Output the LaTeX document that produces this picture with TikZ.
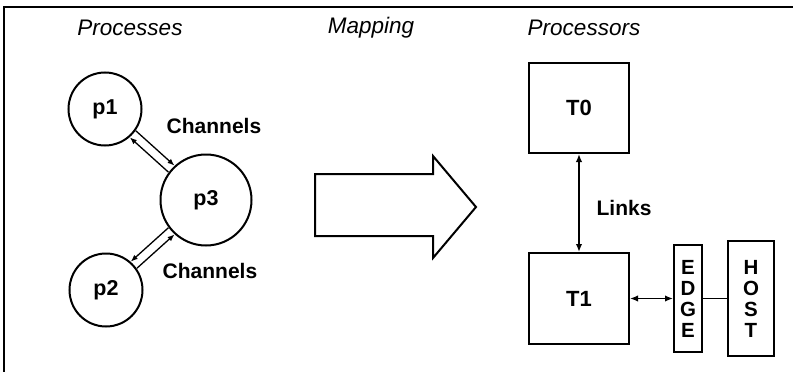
\documentclass[tikz,border=0pt]{standalone}
\usepackage{fontspec}
\setmainfont{Liberation Sans}
\usetikzlibrary{arrows.meta}
\begin{document}
\begin{tikzpicture}[x=1pt,y=-1pt,
  lbl/.style={font=\fontsize{21}{25}\selectfont\bfseries},
  hdr/.style={font=\fontsize{22.5}{26}\selectfont\itshape},
  proc/.style={circle,draw,line width=2pt,inner sep=0pt,font=\fontsize{21.5}{25}\selectfont\bfseries},
  cpu/.style={rectangle,draw,line width=2pt,inner sep=0pt,font=\fontsize{22}{25}\selectfont\bfseries},
  tall/.style={rectangle,draw,line width=2pt,inner sep=0pt,align=center,font=\fontsize{20.5}{21}\selectfont\bfseries},
  chan/.style={line width=1.3pt,-{Latex[length=7pt,width=5.5pt]}},
  link/.style={line width=1.6pt,{Latex[length=8pt,width=6.5pt]}-{Latex[length=8pt,width=6.5pt]}}
]
\useasboundingbox (0,0) rectangle (793,372);
% frame (only top and left edges visible)
\draw[line width=2pt] (4,380) -- (4,7) -- (800,7);

% headers
\node[hdr] (hproc) at (130,28) {Processes};
\node[hdr] (hmap) at (371,28) {Mapping};
\node[hdr] (hcpu) at (584,28) {Processors};

% processes
\node[proc,minimum size=73pt] (p1) at (105,109) {p1};
\node[proc,minimum size=91pt] (p3) at (206,200) {p3};
\node[proc,minimum size=73pt] (p2) at (106,290) {p2};

% channels
\draw[chan,transform canvas={shift={(3pt,3.3pt)}}] (p1) -- (p3);
\draw[chan,transform canvas={shift={(-3pt,-3.3pt)}}] (p3) -- (p1);
\draw[chan,transform canvas={shift={(-3.1pt,3.3pt)}}] (p3) -- (p2);
\draw[chan,transform canvas={shift={(3.1pt,-3.3pt)}}] (p2) -- (p3);

\node[lbl] (ch1) at (214,126) {Channels};
\node[lbl] (ch2) at (210,271) {Channels};

% mapping arrow
\draw[line width=2pt,line join=miter] (315,174) -- (433,174) -- (433,156) -- (476,207)
  -- (433,258) -- (433,236) -- (315,236) -- cycle;

% processors
\node[cpu,minimum width=100pt,minimum height=90pt] (t0) at (579,108) {T0};
\node[cpu,minimum width=100pt,minimum height=91pt] (t1) at (579,298.5) {T1};
\draw[link] (t0.south) -- (t1.north);
\node[lbl] (links) at (624,208) {Links};

\node[tall,minimum width=28pt,minimum height=107pt] (edge) at (688,298.5) {E\\D\\G\\E};
\node[tall,minimum width=46pt,minimum height=115pt] (host) at (751,298.5) {H\\O\\S\\T};
\draw[link] (t1.east) -- (edge.west);
\draw[line width=1.6pt] (edge.east) -- (host.west);
\end{tikzpicture}
\end{document}
